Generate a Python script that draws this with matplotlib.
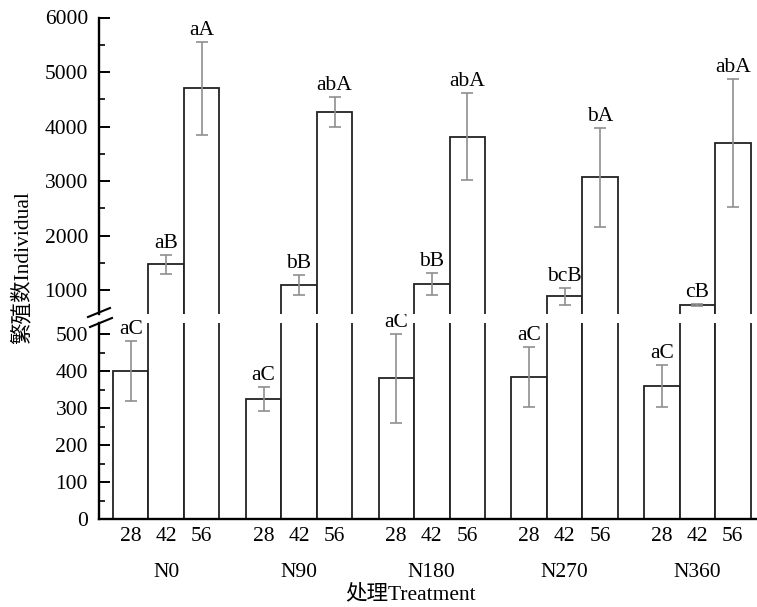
import matplotlib
matplotlib.use("Agg")
import matplotlib.pyplot as plt
from matplotlib.ticker import MultipleLocator
from matplotlib.lines import Line2D
import numpy as np

treatments = ["N0", "N90", "N180", "N270", "N360"]
days = ["28", "42", "56"]
means = {
    "28": [400, 325, 380, 383, 359],
    "42": [1470, 1090, 1105, 884, 725],
    "56": [4700, 4260, 3810, 3065, 3695],
}
errs = {
    "28": [80, 32, 120, 81, 57],
    "42": [175, 180, 200, 150, 20],
    "56": [850, 275, 800, 910, 1180],
}
letters = {
    "28": ["aC", "aC", "aC", "aC", "aC"],
    "42": ["aB", "bB", "bB", "bcB", "cB"],
    "56": ["aA", "abA", "abA", "bA", "abA"],
}

plt.rcParams['font.family'] = ['Liberation Serif', 'Noto Sans CJK SC']
W, H = 757, 607
fig = plt.figure(figsize=(W / 100, H / 100), dpi=100)

def fx(px):
    return px / W

def fy(py):
    return 1 - py / H

left = fx(99)
right = 1.0
ax_lo = fig.add_axes([left, fy(519), right - left, fy(323) - fy(519)])
ax_hi = fig.add_axes([left, fy(314), right - left, fy(17.5) - fy(314)])

group_step = 3.74
bar_w = 1.0
edge = '#222222'
errc = '#8f8f8f'
fs = 15.5

for ax in (ax_lo, ax_hi):
    for j, d in enumerate(days):
        xs = np.arange(len(treatments)) * group_step + j
        ax.bar(xs, means[d], width=bar_w, color='white', edgecolor=edge,
               linewidth=1.3, zorder=2)
        ax.errorbar(xs, means[d], yerr=errs[d], fmt='none', ecolor=errc,
                    elinewidth=1.2, capsize=4.5, capthick=1.2, zorder=3)
    ax.set_xlim(-0.894, 17.64)
    for s in ('top', 'right'):
        ax.spines[s].set_visible(False)
    ax.spines['left'].set_linewidth(1.7)
    ax.spines['bottom'].set_linewidth(1.7)
    ax.tick_params(axis='y', which='major', direction='in', length=8, width=1.4,
                   labelsize=fs, pad=8)
    ax.tick_params(axis='y', which='minor', direction='in', length=4.5, width=1.2)

ax_lo.set_ylim(0, 530)
ax_lo.yaxis.set_major_locator(MultipleLocator(100))
ax_lo.yaxis.set_minor_locator(MultipleLocator(50))
ax_hi.set_ylim(560, 6000)
ax_hi.yaxis.set_major_locator(MultipleLocator(1000))
ax_hi.yaxis.set_minor_locator(MultipleLocator(500))
ax_hi.spines['bottom'].set_visible(False)
ax_hi.set_xticks([])

# x tick labels
xt = []
xl = []
for i in range(len(treatments)):
    for j, d in enumerate(days):
        xt.append(i * group_step + j)
        xl.append(d)
ax_lo.set_xticks(xt)
ax_lo.set_xticklabels(xl)
ax_lo.tick_params(axis='x', length=0, labelsize=fs, pad=6)

# group labels
for i, t in enumerate(treatments):
    ax_lo.annotate(t, xy=(i * group_step + 1, 0), xycoords=('data', 'axes fraction'),
                   xytext=(0, -38.5), textcoords='offset points', ha='center', va='center',
                   fontsize=fs)

# significance letters
for j, d in enumerate(days):
    ax = ax_lo if d == "28" else ax_hi
    for i in range(len(treatments)):
        x = i * group_step + j
        y = means[d][i] + errs[d][i]
        ax.annotate(letters[d][i], xy=(x, y), xytext=(0, 1.5), textcoords='offset points',
                    ha='center', va='bottom', fontsize=fs, annotation_clip=False)

# axis labels
fig.text(fx(22), fy(268), "繁殖数Individual", rotation=90, ha='center', va='center',
         fontsize=fs)
fig.text(fx(411), fy(594), "处理Treatment", ha='center', va='center', fontsize=fs)

# break marks
for (x0, y0, x1, y1) in [(88, 317, 110, 308), (90, 327, 112, 318)]:
    fig.add_artist(Line2D([fx(x0), fx(x1)], [fy(y0), fy(y1)], color='black', lw=1.5,
                          transform=fig.transFigure))

fig.savefig("out.png", dpi=100)
